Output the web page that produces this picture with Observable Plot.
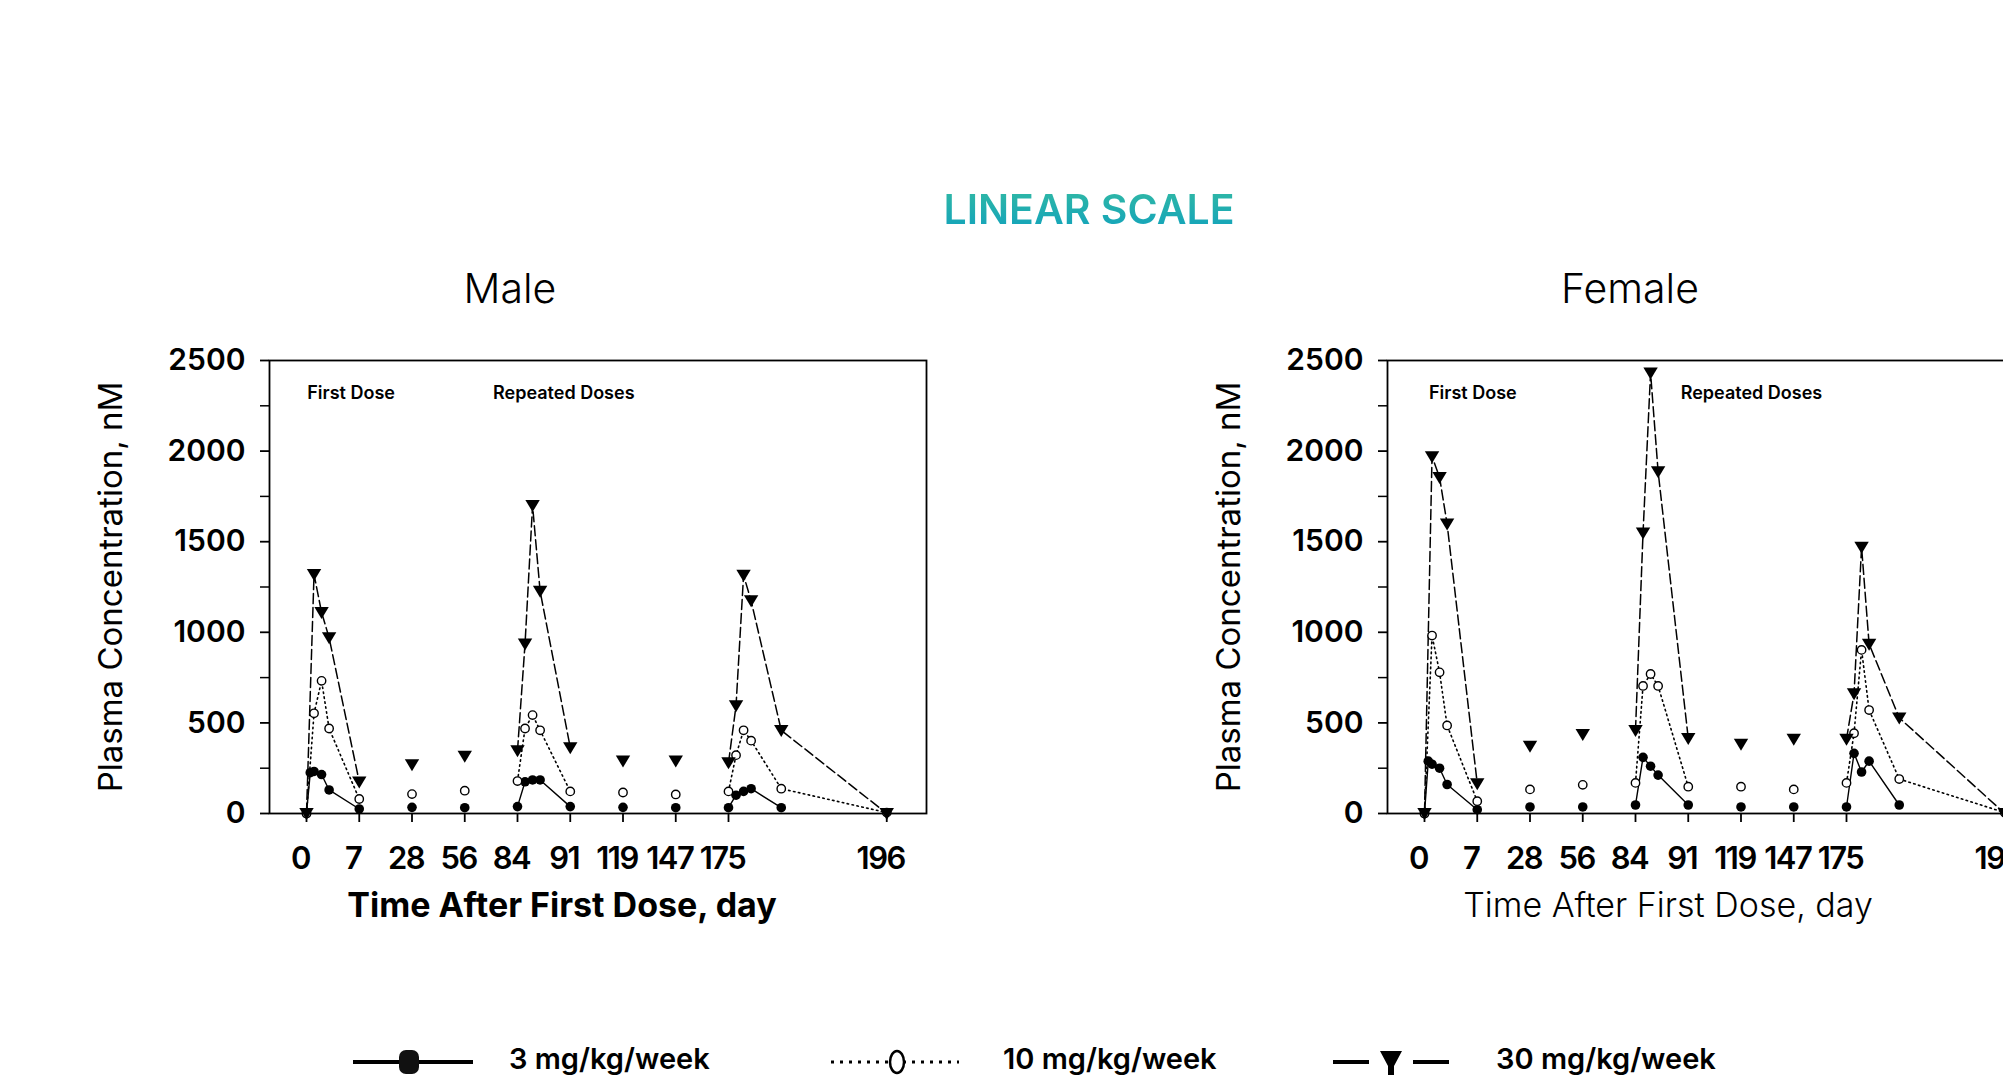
<!DOCTYPE html>
<html>
<head>
<meta charset="utf-8">
<script src="https://cdn.jsdelivr.net/npm/d3@7"></script>
<script src="https://cdn.jsdelivr.net/npm/@observablehq/plot@0.6"></script>
<style>
  html, body { margin: 0; padding: 0; background: #fff; overflow: hidden; width: 2003px; height: 1080px; }
  body { position: relative; font-family: Inter, "Noto Sans", sans-serif; color: #000; }
  .abs { position: absolute; white-space: nowrap; line-height: 1; }
  #title { left: 1089px; top: 189px; transform: translateX(-50%); font-size: 41px; font-weight: 600;
           background: linear-gradient(180deg, #30b8a5 0%, #13a3bb 100%);
           -webkit-background-clip: text; background-clip: text; color: transparent; }
  .panelTitle { top: 268px; font-size: 41px; font-weight: 300; transform: translateX(-50%); }
  .panel { position: absolute; top: 330px; width: 960px; height: 610px; }
  .panel svg { max-width: none !important; width: 960px; height: 610px; }
  .panel svg [aria-label="y-axis tick label"] text, .panel svg [aria-label="x-axis tick label"] text {
    font-weight: 600; font-variant-numeric: proportional-nums; }
  .panel svg [aria-label="x-axis tick label"] text { letter-spacing: -1.5px; }
</style>
</head>
<body>
<div id="title" class="abs">LINEAR SCALE</div>
<script>
// ---------------- DATA ----------------
const days   = [0, 0.5, 1, 2, 3, 7, 28, 56, 84, 85, 86, 87, 91, 119, 147, 175, 176, 177, 178, 182, 196];
const period = [1, 1,   1, 1, 1, 1, 2,  3,  4,  4,  4,  4,  4,  5,   6,   7,   7,   7,   7,   7,   7];
const xTickDays   = [0, 7, 28, 56, 84, 91, 119, 147, 175, 196];
const yTicks      = [0, 500, 1000, 1500, 2000, 2500];
const yMinorTicks = [250, 750, 1250, 1750, 2250];
const doseLabels  = ["3 mg/kg/week", "10 mg/kg/week", "30 mg/kg/week"];
const panelTitles = ["Male", "Female"];
const xAxisTitle  = "Time After First Dose, day";
const yAxisTitle  = "Plasma Concentration, nM";
const annotLabels = ["First Dose", "Repeated Doses"];
const maleAnnotDays   = [0.1, 71];
const femaleAnnotDays = [0.6, 90];
const annotLevel = 2320;

// Male (nM)
const male3  = [0, 225, 232, 215, 130, 25, 34, 32, 38, 175, 185, 185, 38, 34, 32, 32, 101, 122, 137, 32, null];
const male10 = [0, null, 553, 732, 469, 80, 107, 126, 179, 469, 543, 459, 122, 116, 105, 122, 322, 459, 402, 137, 5];
const male30 = [0, null, 1320, 1110, 970, 175, 270, 316, 347, 936, 1700, 1227, 364, 290, 290, 280, 595, 1315, 1174, 459, 0];
// Female (nM)
const female3  = [0, 289, 272, 250, 160, 21, 36, 36, 47, 310, 261, 212, 47, 36, 36, 36, 332, 229, 289, 47, null];
const female10 = [0, null, 982, 779, 486, 68, 133, 158, 169, 704, 770, 704, 148, 148, 133, 169, 443, 903, 571, 190, 5];
const female30 = [0, null, 1970, 1855, 1598, 165, 372, 436, 458, 1549, 2432, 1887, 415, 383, 411, 411, 661, 1470, 935, 528, 0];

// ---------------- LAYOUT ----------------
const W = 960, H = 610, mL = 269, mR = W - 926, mT = 30, mB = 127;
const zeroX = 306, slotW = 52.75, pxPerDay = slotW / 7;
const tickSlots = [0, 1, 2, 3, 4, 5, 6, 7, 8, 11];
const xDomain = [-(zeroX - mL) / pxPerDay, ...xTickDays, 196 + 40 / pxPerDay];
const xRange  = [mL, ...tickSlots.map(s => zeroX + s * slotW), zeroX + 11 * slotW + 40];

const triDown = {
  draw(ctx, size) {
    const r = Math.sqrt(size / Math.PI);
    ctx.moveTo(-r * 1.2, -r * 0.9);
    ctx.lineTo(r * 1.2, -r * 0.9);
    ctx.lineTo(0, r * 1.1);
    ctx.closePath();
  }
};

function rows(vals) {
  return days.map((d, i) => ({day: d, value: vals[i], period: period[i]})).filter(r => r.value != null);
}

function panel(series, annotDays, titleWeight, titleDx) {
  const [s3, s10, s30] = series.map(rows);
  return Plot.plot({
    width: W, height: H, marginLeft: mL, marginRight: mR, marginTop: mT, marginBottom: mB,
    x: {type: "linear", domain: xDomain, range: xRange},
    y: {domain: [0, 2500]},
    style: {fontFamily: "Inter, sans-serif", fontSize: "30px", color: "#000", background: "transparent", overflow: "visible", maxWidth: "none"},
    marks: [
      Plot.frame({stroke: "#000", strokeWidth: 1.8}),
      Plot.axisY({ticks: yTicks, tickFormat: d => String(d), tickSize: 9, tickPadding: 15, label: null, fontSize: 30, fontWeight: 600, strokeWidth: 1.8}),
      Plot.axisY({ticks: yMinorTicks, tickSize: 9, tickFormat: () => "", label: null, strokeWidth: 1.5}),
      Plot.axisX({ticks: xTickDays, tickSize: 9, tickFormat: () => "", label: null, strokeWidth: 1.8}),
      Plot.axisX({ticks: xTickDays, tickFormat: d => String(d), tickSize: 0, tickPadding: 33, dx: -6, label: null, fontSize: 31, fontWeight: 600}),
      Plot.line(s30, {x: "day", y: "value", z: "period", stroke: "#000", strokeWidth: 1.5, strokeDasharray: "10,4"}),
      Plot.line(s10, {x: "day", y: "value", z: "period", stroke: "#000", strokeWidth: 1.6, strokeDasharray: "1.5,3.5"}),
      Plot.line(s3,  {x: "day", y: "value", z: "period", stroke: "#000", strokeWidth: 1.4}),
      Plot.dot(s3,  {x: "day", y: "value", r: 4.8, fill: "#000"}),
      Plot.dot(s10, {x: "day", y: "value", r: 4.2, fill: "#fff", stroke: "#000", strokeWidth: 1.4}),
      Plot.dot(s30, {x: "day", y: "value", r: 6, symbol: triDown, fill: "#000"}),
      Plot.text(annotLabels, {x: (d, i) => annotDays[i], y: () => annotLevel, text: d => d,
        textAnchor: "start", fontSize: 18, fontWeight: 600}),
      Plot.text([yAxisTitle], {frameAnchor: "left", textAnchor: "middle", lineAnchor: "middle", dx: -158, rotate: -90, fontSize: 33, fontWeight: 400}),
      Plot.text([xAxisTitle], {frameAnchor: "bottom", textAnchor: "middle", dx: titleDx, dy: 79, lineAnchor: "top", fontSize: 34, fontWeight: titleWeight})
    ]
  });
}

const panelLeft = [0, 1118];
const panelTitleX = [510, 1630];
const panels = [
  panel([male3, male10, male30], maleAnnotDays, 700, -36),
  panel([female3, female10, female30], femaleAnnotDays, 300, -48)
];
panels.forEach((svg, i) => {
  const div = document.createElement("div");
  div.className = "panel";
  div.style.left = panelLeft[i] + "px";
  div.appendChild(svg);
  document.body.appendChild(div);
  const t = document.createElement("div");
  t.className = "abs panelTitle";
  t.style.left = panelTitleX[i] + "px";
  t.textContent = panelTitles[i];
  document.body.appendChild(t);
});

// ---------------- LEGEND ----------------
const legX = [353, 831, 1333], legLabelX = [509, 1003, 1496], legW = 120;
const leg = d3.select("body").append("svg")
  .attr("class", "abs").style("left", "0px").style("top", "1030px")
  .attr("width", 2003).attr("height", 50);
const cy = 32;
doseLabels.forEach((lab, i) => {
  const g = leg.append("g");
  const x0 = legX[i], xm = x0 + legW / 2;
  if (i === 0) {
    g.append("line").attr("x1", x0).attr("x2", x0 + legW).attr("y1", cy).attr("y2", cy).attr("stroke", "#000").attr("stroke-width", 4);
    g.append("rect").attr("x", xm - 14).attr("y", cy - 12).attr("width", 20).attr("height", 24).attr("rx", 7).attr("fill", "#111");
  } else if (i === 1) {
    g.append("line").attr("x1", x0).attr("x2", x0 + legW + 8).attr("y1", cy).attr("y2", cy).attr("stroke", "#000").attr("stroke-width", 3).attr("stroke-dasharray", "3,6");
    g.append("ellipse").attr("cx", xm + 6).attr("cy", cy).attr("rx", 7).attr("ry", 11).attr("fill", "#fff").attr("stroke", "#000").attr("stroke-width", 2.5);
  } else {
    g.append("line").attr("x1", x0).attr("x2", x0 + 36).attr("y1", cy).attr("y2", cy).attr("stroke", "#000").attr("stroke-width", 4);
    g.append("line").attr("x1", x0 + 80).attr("x2", x0 + 116).attr("y1", cy).attr("y2", cy).attr("stroke", "#000").attr("stroke-width", 4);
    const tx = x0 + 58;
    g.append("path").attr("d", `M${tx - 11},${cy - 11}L${tx + 11},${cy - 11}L${tx + 3},${cy + 4}L${tx + 3},${cy + 13}L${tx - 3},${cy + 13}L${tx - 3},${cy + 4}Z`).attr("fill", "#000");
  }
  leg.append("text").attr("x", legLabelX[i]).attr("y", 39)
    .attr("font-family", "Inter, sans-serif").attr("font-size", 29).attr("font-weight", 600).attr("fill", "#000").text(lab);
});
</script>
</body>
</html>
